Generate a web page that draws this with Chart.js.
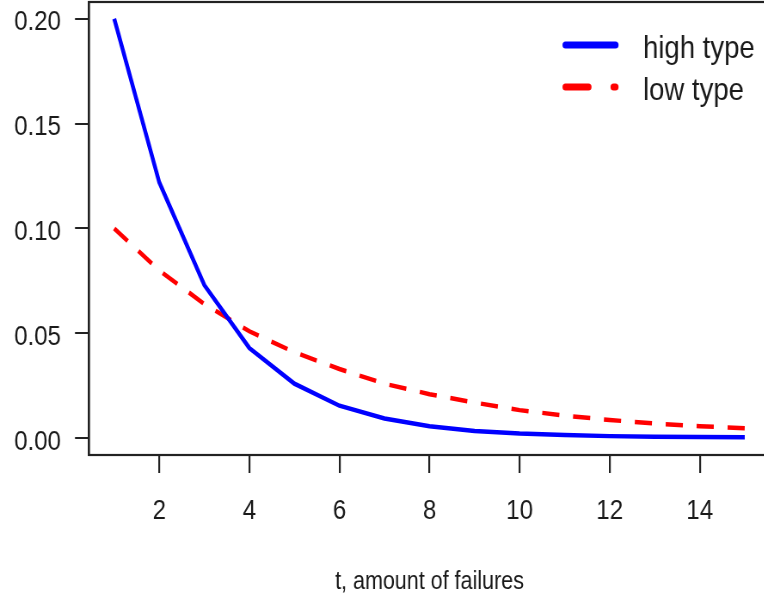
<!DOCTYPE html>
<html>
<head>
<meta charset="utf-8">
<script src="https://cdn.jsdelivr.net/npm/chart.js@4.4.0/dist/chart.umd.min.js"></script>
<style>
  html, body { margin: 0; padding: 0; background: #fff; overflow: hidden; }
  /* the reference is a horizontally squeezed R plot, so draw wide and squeeze */
  #wrap { width: 907px; height: 599px; transform: scaleX(0.86); transform-origin: 0 0; }
</style>
</head>
<body>
<div id="wrap"><canvas id="hazardChart" width="907" height="599"></canvas></div>
<script>
// values
var failures = [1, 2, 3, 4, 5, 6, 7, 8, 9, 10, 11, 12, 13, 14, 15];
var highType = [0.200, 0.122, 0.073, 0.043, 0.026, 0.0155, 0.0094, 0.0057, 0.0035, 0.0022, 0.0015, 0.0010, 0.0007, 0.0006, 0.0005];
var lowType = [0.100, 0.080, 0.064, 0.051, 0.041, 0.033, 0.026, 0.021, 0.017, 0.0134, 0.0108, 0.0087, 0.0070, 0.0057, 0.0048];
var seriesNames = ['high type', 'low type'];
var xTicks = [2, 4, 6, 8, 10, 12, 14];
var yTicks = [0, 0.05, 0.10, 0.15, 0.20];
var xTitle = 't, amount of failures';

var SQ = 0.86; // horizontal squeeze of the wrapper
var FONT = "'Liberation Sans', Arial, sans-serif";

function points(ys) {
  return failures.map(function(t, i) { return { x: t, y: ys[i] }; });
}

// R style box round the plot region plus a legend in the top right corner
var rDecor = {
  id: 'rDecor',
  afterDraw: function(chart) {
    var ctx = chart.ctx;
    var a = chart.chartArea;
    ctx.save();
    ctx.strokeStyle = '#222';
    ctx.lineWidth = 2.2;
    ctx.strokeRect(a.left, a.top, a.right - a.left, a.bottom - a.top);

    var dashes = [[], [23 / SQ, 25 / SQ]];
    chart.data.datasets.forEach(function(ds, i) {
      var y = 45 + i * 42;
      ctx.strokeStyle = ds.borderColor;
      ctx.lineWidth = 7;
      ctx.lineCap = 'round';
      ctx.setLineDash(dashes[i]);
      ctx.beginPath();
      ctx.moveTo(565.5 / SQ, y);
      ctx.lineTo(615.5 / SQ, y);
      ctx.stroke();
      ctx.setLineDash([]);
      ctx.fillStyle = '#1a1a1a';
      ctx.font = '32px ' + FONT;
      ctx.textBaseline = 'alphabetic';
      ctx.textAlign = 'left';
      ctx.fillText(ds.label, 643 / SQ, y + 13);
    });
    ctx.restore();
  }
};

var chart = new Chart(document.getElementById('hazardChart'), {
  type: 'line',
  data: {
    datasets: [{
      label: seriesNames[0],
      data: points(highType),
      borderColor: '#0000ff',
      borderWidth: 4.5,
      tension: 0,
      pointRadius: 0
    }, {
      label: seriesNames[1],
      data: points(lowType),
      borderColor: '#ff0000',
      borderWidth: 4.5,
      borderDash: [20, 16],
      tension: 0,
      pointRadius: 0
    }]
  },
  options: {
    responsive: false,
    animation: false,
    devicePixelRatio: 1,
    layout: { padding: { left: 0, top: 2, right: 907 - 770 / SQ, bottom: 0 } },
    plugins: {
      legend: { display: false },
      tooltip: { enabled: false }
    },
    scales: {
      x: {
        type: 'linear',
        min: 0.44,
        max: 15.56,
        afterBuildTicks: function(s) { s.ticks = xTicks.map(function(v) { return { value: v }; }); },
        afterFit: function(s) { s.height = 144; s.paddingLeft = 0; s.paddingRight = 0; },
        grid: { drawOnChartArea: false, drawTicks: true, tickLength: 18, color: '#222', lineWidth: 2.2 },
        border: { display: true, color: '#222', width: 2 },
        ticks: {
          color: '#1a1a1a',
          font: { family: FONT, size: 28 },
          padding: 21,
          maxRotation: 0,
          callback: function(v) { return String(v); }
        },
        title: {
          display: true,
          text: xTitle,
          color: '#1a1a1a',
          font: { family: FONT, size: 25 },
          padding: { top: 0, bottom: 2 }
        }
      },
      y: {
        min: -0.008,
        max: 0.208,
        afterBuildTicks: function(s) { s.ticks = yTicks.map(function(v) { return { value: v }; }); },
        afterFit: function(s) { s.width = 89 / SQ; s.paddingTop = 0; s.paddingBottom = 0; },
        grid: { drawOnChartArea: false, drawTicks: true, tickLength: 14 / SQ, color: '#222', lineWidth: 2 },
        border: { display: true, color: '#222', width: 2.2 },
        ticks: {
          color: '#1a1a1a',
          font: { family: FONT, size: 28 },
          padding: 14 / SQ,
          labelOffset: 4,
          callback: function(v) { return v.toFixed(2); }
        }
      }
    }
  },
  plugins: [rDecor]
});
</script>
</body>
</html>
